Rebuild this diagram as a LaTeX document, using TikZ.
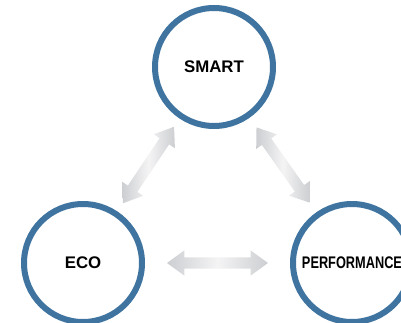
\documentclass[tikz,border=0pt]{standalone}
\usepackage{fontspec}
\newfontfamily\labelfont{Liberation Sans}
\usetikzlibrary{calc,shapes.arrows}
\definecolor{ringblue}{RGB}{64,116,160}
\definecolor{arrowgray}{RGB}{204,206,209}
\definecolor{arrowlight}{RGB}{244,244,245}
\tikzset{
  ring/.style={circle, draw=ringblue, line width=6pt, fill=white,
    minimum size=118pt, inner sep=0pt,
    font=\labelfont\bfseries\fontsize{16.8}{19}\selectfont},
  dblarrow/.style={double arrow, inner xsep=0pt, inner ysep=5.5pt,
    minimum width=25pt, double arrow head extend=7pt,
    double arrow tip angle=72,
    left color=arrowgray, right color=arrowgray, middle color=arrowlight}
}
\begin{document}
\begin{tikzpicture}[x=1pt,y=1pt]
\useasboundingbox (0,0) rectangle (401,322);
% the three circles
\node[ring] (smart) at (214,255) {SMART};
\node[ring] (eco) at (83,59) {ECO};
\node[ring] (perf) at (352,59) {\scalebox{0.76}[1]{PERFORMANCE}};
% arrows between them
\path (eco) -- (smart) node[midway, sloped, dblarrow, minimum height=92pt] (ecosmart) {};
\path (smart) -- (perf) node[midway, sloped, dblarrow, minimum height=92pt] (smartperf) {};
\path (eco) -- (perf) node[midway, sloped, dblarrow, minimum height=101pt] (ecoperf) {};
\end{tikzpicture}
\end{document}
